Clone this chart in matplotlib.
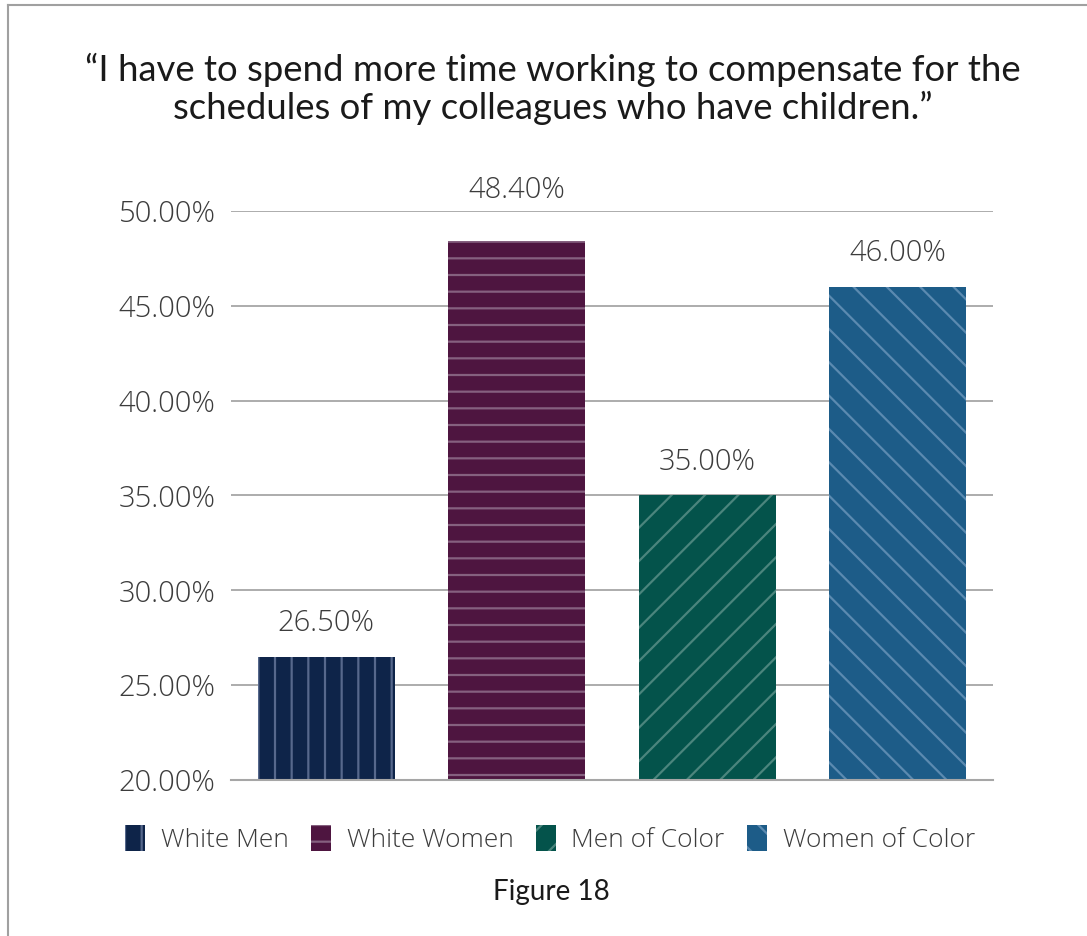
import matplotlib
matplotlib.use("Agg")
import matplotlib.pyplot as plt
from matplotlib.patches import Rectangle
from matplotlib.ticker import FuncFormatter

categories = ["White Men", "White Women", "Men of Color", "Women of Color"]
values = [26.5, 48.4, 35.0, 46.0]
yticks = [20, 25, 30, 35, 40, 45, 50]
title = "\u201cI have to spend more time working to compensate for the\nschedules of my colleagues who have children.\u201d"
caption = "Figure 18"

face_colors = ["#0e2449", "#4e1540", "#04534b", "#1d5c88"]
hatch_colors = ["#56688c", "#85607f", "#4b857d", "#5b8ab0"]
hatches = ["|", "-", "/", "\\"]

plt.rcParams["hatch.linewidth"] = 1.6
FONT = ["Lato", "DejaVu Sans"]
LIGHT = ["Open Sans", "DejaVu Sans"]
TXT = "#3c3c3c"

fig = plt.figure(figsize=(10.87, 9.36), dpi=100)
ax = fig.add_axes([0.2125, 0.1667, 0.701, 0.6079])

x = list(range(len(categories)))
bars = ax.bar(x, values, width=0.72, bottom=0, color=face_colors,
              edgecolor=hatch_colors, linewidth=0, zorder=3)
for b, h in zip(bars, hatches):
    b.set_hatch(h)

ax.set_xlim(-0.5, len(categories) - 0.5)
ax.set_ylim(20, 50)
ax.set_yticks(yticks)
ax.yaxis.set_major_formatter(FuncFormatter(lambda v, p: f"{v:.2f}%"))
ax.set_xticks([])
ax.tick_params(axis="y", length=0, pad=11, labelsize=21, labelcolor=TXT)
for lab in ax.get_yticklabels():
    lab.set_family(LIGHT)
    lab.set_weight(300)
ax.grid(axis="y", color="#a6a6a6", linewidth=1.3, zorder=0)
for s in ["top", "right", "left"]:
    ax.spines[s].set_visible(False)
ax.spines["bottom"].set_color("#a6a6a6")
ax.spines["bottom"].set_linewidth(1.5)
ax.spines["bottom"].set_zorder(4)

ytop = ax.get_ylim()[1]
for xi, v in zip(x, values):
    # labels that would hit the top gridline are lifted above it
    if v > ytop - 2.5:
        ax.annotate(f"{v:.2f}%", (xi, ytop), xytext=(0, 15), textcoords="offset points",
                    ha="center", va="center", fontsize=21, color=TXT,
                    family=LIGHT, weight=300, annotation_clip=False)
    else:
        ax.annotate(f"{v:.2f}%", (xi, v), xytext=(0, 24), textcoords="offset points",
                    ha="center", va="center", fontsize=21, color=TXT,
                    family=LIGHT, weight=300, annotation_clip=False)

handles = [Rectangle((0, 0), 1, 1, facecolor=fc, edgecolor=hc, hatch=h, linewidth=0)
           for fc, hc, h in zip(face_colors, hatch_colors, hatches)]
leg = fig.legend(handles, categories, loc="center", bbox_to_anchor=(0.506, 0.104),
                 ncol=4, frameon=False, handlelength=0.75, handleheight=1.15,
                 handletextpad=0.6, columnspacing=0.85,
                 prop={"family": LIGHT, "weight": 300, "size": 19})
for t in leg.get_texts():
    t.set_color(TXT)

fig.text(0.509, 0.905, title, ha="center", va="center", fontsize=26.3,
         family=FONT, color="#1a1a1a", linespacing=1.15)
fig.text(0.507, 0.047, caption, ha="center", va="center", fontsize=20,
         family=FONT, color="#1a1a1a")

# figure border (left and top visible)
fig.add_artist(plt.Line2D([0.0078, 0.0078], [0, 0.9947], transform=fig.transFigure,
                          color="#a0a0a0", linewidth=1.5))
fig.add_artist(plt.Line2D([0.0078, 1.0], [0.9947, 0.9947], transform=fig.transFigure,
                          color="#a0a0a0", linewidth=1.5))

fig.savefig("out.png", dpi=100, facecolor="white")
